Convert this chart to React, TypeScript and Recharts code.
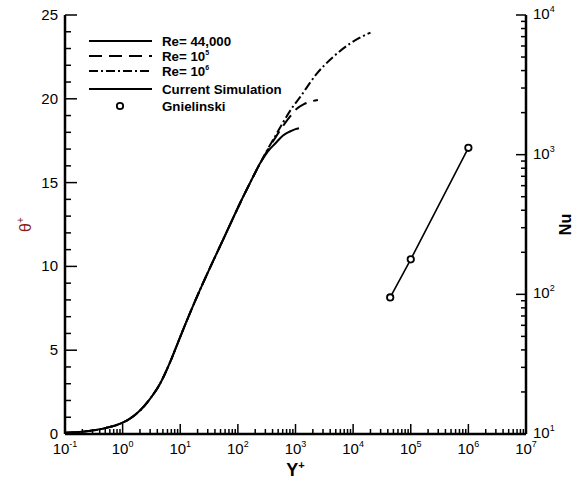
import React from 'react';
import { ComposedChart, Line, XAxis, YAxis, Legend } from 'recharts';

// ---- data ----
// common near-wall part of all three theta+ profiles
const commonYPlus = [0.1, 0.2, 0.5, 1, 1.34, 2, 2.99, 4.46, 6.65, 10, 14.8, 22, 32.9, 49, 73.3, 110, 163, 243];
const commonTheta = [0.07, 0.14, 0.35, 0.68, 0.92, 1.4, 2.1, 3.0, 4.28, 5.8, 7.23, 8.6, 9.93, 11.2, 12.5, 13.8, 14.99, 16.15];

// Re = 44,000 outer part
const re44YPlus = [330, 450, 600, 800, 1000, 1150];
const re44Theta = [16.85, 17.35, 17.8, 18.05, 18.19, 18.24];

// Re = 1e5 outer part
const re1e5YPlus = [330, 450, 600, 800, 1050, 1400, 1800, 2450];
const re1e5Theta = [16.95, 17.7, 18.35, 18.93, 19.4, 19.68, 19.83, 19.93];

// Re = 1e6 outer part
const re1e6YPlus = [330, 450, 610, 850, 1200, 2344, 4500, 8900, 12600, 17300, 20000];
const re1e6Theta = [17.0, 17.8, 18.6, 19.4, 20.1, 21.5, 22.5, 23.3, 23.62, 23.85, 23.95];

// Nusselt number vs Re
const reValues = [44000, 100000, 1000000];
const simNu = [95, 178, 1120];
const gnielinskiNu = [95, 178, 1120];

// axis ticks
const xExponents = [-1, 0, 1, 2, 3, 4, 5, 6, 7];
const nuExponents = [1, 2, 3, 4];
const thetaMajor = [0, 5, 10, 15, 20, 25];

const FONT = '"Liberation Sans", Arial, Helvetica, sans-serif';

const buildProfile = (xs: number[], ts: number[]) =>
  commonYPlus.map((x, i) => ({ x, t: commonTheta[i] })).concat(xs.map((x, i) => ({ x, t: ts[i] })));

const re44Data = buildProfile(re44YPlus, re44Theta);
const re1e5Data = buildProfile(re1e5YPlus, re1e5Theta);
const re1e6Data = buildProfile(re1e6YPlus, re1e6Theta);
const simData = reValues.map((x, i) => ({ x, nu: simNu[i] }));
const gnData = reValues.map((x, i) => ({ x, nu: gnielinskiNu[i] }));

const logTicks = (exps: number[]) => {
  const out: number[] = [];
  exps.forEach((e, i) => {
    const d = Math.pow(10, e);
    out.push(d);
    if (i < exps.length - 1) for (let m = 2; m <= 9; m++) out.push(d * m);
  });
  return out;
};
const xTicks = logTicks(xExponents);
const nuTicks = logTicks(nuExponents);
const thetaTicks: number[] = [];
for (let v = 0; v <= 25; v++) thetaTicks.push(v);

const isDecade = (v: number) => {
  const l = Math.log10(v);
  return Math.abs(l - Math.round(l)) < 1e-6;
};

const XTick = (props: any) => {
  const { x, y, payload } = props;
  const v = payload.value;
  const major = isDecade(v);
  return (
    <g>
      <line x1={x} x2={x} y1={y} y2={y - (major ? 10 : 5)} stroke="#000" strokeWidth={1.5} />
      {major && (
        <text x={x} y={y + 20} textAnchor="middle" fontSize={15} fontFamily={FONT} fill="#000">
          10<tspan dy={-7} fontSize={9}>{Math.round(Math.log10(v))}</tspan>
        </text>
      )}
    </g>
  );
};

const LeftTick = (props: any) => {
  const { x, y, payload } = props;
  const v = payload.value;
  const major = thetaMajor.includes(v);
  return (
    <g>
      <line x1={x} x2={x + (major ? 12 : 6)} y1={y} y2={y} stroke="#000" strokeWidth={1.5} />
      {major && (
        <text x={x - 7} y={y + 5} textAnchor="end" fontSize={15} fontFamily={FONT} fill="#000">
          {v}
        </text>
      )}
    </g>
  );
};

const RightTick = (props: any) => {
  const { x, y, payload } = props;
  const v = payload.value;
  const major = isDecade(v);
  return (
    <g>
      <line x1={x} x2={x - (major ? 10 : 5)} y1={y} y2={y} stroke="#000" strokeWidth={1.5} />
      {major && (
        <text x={x + 7} y={y + 4} textAnchor="start" fontSize={15} fontFamily={FONT} fill="#000">
          10<tspan dy={-7} fontSize={9}>{Math.round(Math.log10(v))}</tspan>
        </text>
      )}
    </g>
  );
};

const legendRows = [
  { label: 'Re= 44,000', sup: '', kind: 'solid', y: 11 },
  { label: 'Re= 10', sup: '5', kind: 'dash', y: 26 },
  { label: 'Re= 10', sup: '6', kind: 'dashdot', y: 41 },
  { label: 'Current Simulation', sup: '', kind: 'solid', y: 59 },
  { label: 'Gnielinski', sup: '', kind: 'circle', y: 76 },
];

const renderLegend = () => (
  <svg width={220} height={90} style={{ display: 'block' }}>
    {legendRows.map((r, i) => (
      <g key={i}>
        {r.kind === 'circle' ? (
          <circle cx={40} cy={r.y} r={3.2} fill="#fff" stroke="#000" strokeWidth={1.8} />
        ) : (
          <line
            x1={9}
            x2={72}
            y1={r.y}
            y2={r.y}
            stroke="#000"
            strokeWidth={2}
            strokeDasharray={r.kind === 'dash' ? '13 7' : r.kind === 'dashdot' ? '9 3 2 3' : undefined}
          />
        )}
        <text x={82} y={r.y + 5} fontSize={13.3} fontWeight="bold" fontFamily={FONT} fill="#000">
          {r.label}
          {r.sup && <tspan dy={-6} fontSize={7}>{r.sup}</tspan>}
        </text>
      </g>
    ))}
  </svg>
);

export default function App() {
  return (
    <div style={{ position: 'absolute', left: 0, top: 0, width: 584, height: 484, background: '#fff' }}>
      <ComposedChart width={584} height={484} margin={{ top: 15, right: 0, bottom: 0, left: 0 }}>
        <XAxis
          xAxisId={0}
          dataKey="x"
          type="number"
          scale="log"
          domain={[0.1, 1e7]}
          allowDataOverflow
          ticks={xTicks}
          interval={0}
          tick={<XTick />}
          tickLine={false}
          tickSize={0}
          tickMargin={0}
          height={50}
          axisLine={{ stroke: '#000', strokeWidth: 2.5 }}
          label={{
            content: (p: any) => {
              const vb = p.viewBox || {};
              return (
                <text
                  x={vb.x + vb.width / 2}
                  y={vb.y + 42}
                  textAnchor="middle"
                  fontSize={18}
                  fontWeight="bold"
                  fontFamily={FONT}
                  fill="#000"
                >
                  Y<tspan dy={-7} fontSize={11}>+</tspan>
                </text>
              );
            },
          }}
        />
        <XAxis
          xAxisId="top"
          orientation="top"
          type="number"
          scale="log"
          domain={[0.1, 1e7]}
          allowDataOverflow
          height={0}
          tick={false}
          tickLine={false}
          axisLine={{ stroke: '#000', strokeWidth: 2.5 }}
        />
        <YAxis
          yAxisId="left"
          type="number"
          domain={[0, 25]}
          ticks={thetaTicks}
          interval={0}
          allowDataOverflow
          width={65}
          tick={<LeftTick />}
          tickLine={false}
          tickSize={0}
          tickMargin={0}
          axisLine={{ stroke: '#000', strokeWidth: 2.5 }}
          label={{
            content: (p: any) => {
              const vb = p.viewBox || {};
              const cx = vb.x + 31;
              const cy = vb.y + vb.height / 2;
              return (
                <text
                  x={cx}
                  y={cy}
                  transform={`rotate(-90 ${cx} ${cy})`}
                  textAnchor="middle"
                  fontSize={16}
                  fontFamily={FONT}
                  fill="#8b1a1a"
                >
                  θ<tspan dy={-7} fontSize={10}>+</tspan>
                </text>
              );
            },
          }}
        />
        <YAxis
          yAxisId="right"
          orientation="right"
          type="number"
          scale="log"
          domain={[10, 10000]}
          ticks={nuTicks}
          interval={0}
          allowDataOverflow
          width={58}
          tick={<RightTick />}
          tickLine={false}
          tickSize={0}
          tickMargin={0}
          axisLine={{ stroke: '#000', strokeWidth: 2.5 }}
          label={{
            content: (p: any) => {
              const vb = p.viewBox || {};
              const cx = vb.x + 45;
              const cy = vb.y + vb.height / 2;
              return (
                <text
                  x={cx}
                  y={cy}
                  transform={`rotate(-90 ${cx} ${cy})`}
                  textAnchor="middle"
                  fontSize={16}
                  fontWeight="bold"
                  fontFamily={FONT}
                  fill="#000"
                >
                  Nu
                </text>
              );
            },
          }}
        />
        <Legend
          layout="vertical"
          align="center"
          verticalAlign="middle"
          content={renderLegend}
          wrapperStyle={{ position: 'absolute', left: 80, top: 30, width: 220, height: 90 }}
        />
        <Line
          yAxisId="left"
          data={re1e6Data}
          dataKey="t"
          type="monotone"
          stroke="#000"
          strokeWidth={2}
          strokeDasharray="9 3 2 3"
          dot={false}
          isAnimationActive={false}
        />
        <Line
          yAxisId="left"
          data={re1e5Data}
          dataKey="t"
          type="monotone"
          stroke="#000"
          strokeWidth={2}
          strokeDasharray="13 7"
          dot={false}
          isAnimationActive={false}
        />
        <Line
          yAxisId="left"
          data={re44Data}
          dataKey="t"
          type="monotone"
          stroke="#000"
          strokeWidth={2}
          dot={false}
          isAnimationActive={false}
        />
        <Line
          yAxisId="right"
          data={simData}
          dataKey="nu"
          type="linear"
          stroke="#000"
          strokeWidth={1.6}
          dot={false}
          isAnimationActive={false}
        />
        <Line
          yAxisId="right"
          data={gnData}
          dataKey="nu"
          type="linear"
          stroke="none"
          strokeWidth={0}
          dot={{ r: 3.2, fill: '#fff', stroke: '#000', strokeWidth: 1.8 }}
          isAnimationActive={false}
        />
      </ComposedChart>
    </div>
  );
}
